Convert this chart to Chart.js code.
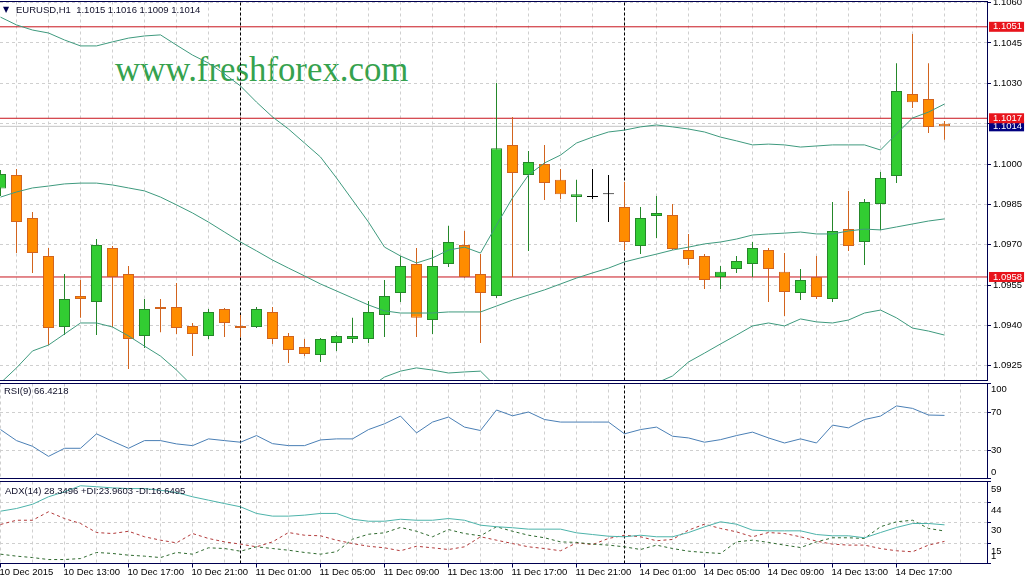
<!DOCTYPE html>
<html>
<head>
<meta charset="utf-8">
<script src="https://cdn.jsdelivr.net/npm/chart.js@4.4.1/dist/chart.umd.min.js"></script>
<style>
html,body{margin:0;padding:0;background:#fff;width:1029px;height:579px;overflow:hidden;}
#wrap{position:relative;width:1029px;height:579px;}
canvas{position:absolute;left:0;z-index:1;}
.lbl{position:absolute;z-index:2;font-family:"Liberation Sans",Arial,sans-serif;font-size:9.5px;line-height:12px;color:#10102a;white-space:pre;}
#wm{position:absolute;z-index:0;left:115px;top:53px;font-family:"Liberation Serif","Times New Roman",serif;font-size:34.8px;line-height:34px;color:#36a24e;white-space:pre;}
#tri{position:absolute;z-index:2;left:3px;top:4px;font-family:"DejaVu Sans",sans-serif;font-size:8px;line-height:12px;color:#000050;}
</style>
</head>
<body>
<div id="wrap">
  <div id="wm">www.freshforex.com</div>
  <canvas id="cMain" width="1029" height="381" style="top:0px"></canvas>
  <canvas id="cRsi" width="1029" height="97" style="top:382px"></canvas>
  <canvas id="cAdx" width="1029" height="99" style="top:480px"></canvas>
  <div id="tri">▼</div>
  <div class="lbl" style="left:16px;top:4px">EURUSD,H1  1.1015 1.1016 1.1009 1.1014</div>
  <div class="lbl" style="left:4px;top:385px">RSI(9) 66.4218</div>
  <div class="lbl" style="left:5px;top:485px">ADX(14) 28.3496 +DI:23.9603 -DI:16.6495</div>
</div>
<script>
// ---------------- DATA (EURUSD H1, 10 Dec 09:00 .. 14 Dec 20:00) ----------------
const open  = [1.09909,1.09959,1.09799,1.09658,1.09394,1.09509,1.09487,1.09688,1.09591,1.09361,
               1.09468,1.09468,1.09398,1.09361,1.09461,1.09398,1.09394,1.0945,1.09361,1.0932,
               1.0929,1.09335,1.09349,1.09349,1.09439,1.0952,1.09628,1.0942,1.09628,1.09699,
               1.09591,1.09509,1.10071,1.09959,1.1,1.09941,1.09877,1.09877,1.09888,1.0984,
               1.09695,1.09807,1.0981,1.0968,1.09658,1.0958,1.0961,1.09628,1.0968,1.09599,
               1.0952,1.0958,1.09498,1.09758,1.0971,1.09851,1.09955,1.1026,1.10242,1.1015];
const high  = [1.09978,1.09981,1.09822,1.09688,1.09591,1.09569,1.09721,1.09695,1.09621,1.09498,
               1.09498,1.09558,1.09409,1.09461,1.09465,1.09439,1.09468,1.09468,1.09372,1.09349,
               1.09353,1.09364,1.09428,1.09491,1.09569,1.09658,1.09688,1.0968,1.0977,1.09751,
               1.09665,1.10301,1.10175,1.10048,1.10071,1.09981,1.09941,1.09981,1.09959,1.09933,
               1.0984,1.09881,1.09851,1.0974,1.09665,1.09621,1.09658,1.0971,1.09688,1.09669,
               1.0961,1.09658,1.09859,1.099,1.0987,1.0997,1.10375,1.10483,1.10375,1.1016];
const low   = [1.09881,1.09669,1.09595,1.09327,1.09364,1.09428,1.09364,1.09394,1.09238,1.09316,
               1.09375,1.09368,1.09286,1.09349,1.09357,1.09357,1.0939,1.09331,1.0926,1.09286,
               1.09264,1.09305,1.09335,1.09335,1.09357,1.09487,1.09357,1.09368,1.09617,1.09576,
               1.09335,1.09502,1.0958,1.09677,1.09866,1.0987,1.09784,1.0987,1.09784,1.0968,
               1.09665,1.09725,1.0968,1.09625,1.09535,1.09535,1.09595,1.0958,1.09487,1.09435,
               1.09494,1.09498,1.09487,1.09677,1.09625,1.09755,1.09929,1.10208,1.10115,1.1009];
const close = [1.09963,1.09784,1.09669,1.0939,1.09498,1.09498,1.09699,1.0958,1.09349,1.09461,
               1.09461,1.0939,1.09368,1.0945,1.09409,1.0939,1.09461,1.09349,1.09309,1.09294,
               1.09349,1.09361,1.09361,1.0945,1.09509,1.09621,1.09428,1.09621,1.0971,1.0958,
               1.0952,1.10059,1.09967,1.10007,1.09929,1.09888,1.09888,1.09877,1.09888,1.0971,
               1.09799,1.09818,1.09684,1.09647,1.09569,1.09599,1.09639,1.09688,1.0961,1.09524,
               1.09569,1.09506,1.09751,1.09695,1.09859,1.09948,1.10271,1.1023,1.10138,1.1014];

const bbUpper  = [1.10546,1.10517,1.10498,1.10487,1.10461,1.10439,1.10439,1.10454,1.10468,1.10476,
                  1.1048,1.10442,1.10405,1.10375,1.10335,1.1029,1.1023,1.10175,1.1013,1.10078,
                  1.10026,1.09948,1.09866,1.09784,1.09691,1.09658,1.09632,1.09651,1.0968,1.09691,
                  1.09669,1.09773,1.09874,1.09959,1.10004,1.10033,1.10078,1.101,1.10119,1.10126,
                  1.10138,1.10145,1.10138,1.1013,1.10119,1.101,1.10086,1.10071,1.10074,1.10071,
                  1.10063,1.10067,1.10071,1.10071,1.10071,1.10052,1.10112,1.10171,1.10193,1.10223];
const bbMiddle = [1.09877,1.09896,1.09911,1.09918,1.09926,1.09929,1.09929,1.09922,1.09911,1.099,
                  1.09877,1.09848,1.09818,1.09784,1.09747,1.0971,1.09677,1.09643,1.09613,1.09584,
                  1.09554,1.09528,1.09502,1.09476,1.09454,1.09446,1.09446,1.09446,1.0945,1.0945,
                  1.0945,1.09472,1.09494,1.09513,1.09532,1.09554,1.09576,1.09595,1.09613,1.09636,
                  1.09651,1.09665,1.0968,1.09691,1.09703,1.0971,1.09721,1.09736,1.0974,1.09743,
                  1.09747,1.0974,1.0974,1.09751,1.09758,1.09755,1.09766,1.09777,1.09788,1.09796];
const bbLower  = [1.09186,1.09242,1.09305,1.09327,1.09368,1.09409,1.09409,1.09394,1.09361,1.09323,
                  1.09286,1.09234,1.09175,1.09152,1.0913,1.09108,1.09123,1.09112,1.09097,1.09089,
                  1.09082,1.09108,1.09138,1.09167,1.09208,1.0923,1.09242,1.09234,1.09223,1.09227,
                  1.0923,1.09171,1.09115,1.09067,1.09059,1.09074,1.09074,1.09089,1.09108,1.09145,
                  1.09164,1.09186,1.09212,1.09264,1.09297,1.09331,1.09364,1.09398,1.09409,1.09398,
                  1.09424,1.09413,1.09409,1.0942,1.09446,1.09457,1.09428,1.0939,1.09379,1.09364];

const rsi   = [51.5,39.9,33.9,23.3,31.8,31.8,47.0,39.2,31.8,39.9,
               39.9,36.4,34.6,41.7,39.9,38.2,45.2,36.7,34.6,34.6,
               40.6,41.7,41.7,51.5,57.6,65.7,48.0,59.4,64.7,54.1,
               50.5,72.1,66.0,70.0,62.1,59.4,59.4,59.4,59.4,47.0,
               51.5,54.1,44.5,42.7,38.2,40.9,45.2,48.8,42.7,37.4,
               41.7,37.4,56.2,53.3,62.1,65.7,76.4,73.8,66.8,66.42];
const adx   = [38.0,39.9,42.9,48.2,51.7,56.0,55.3,54.5,54.0,54.0,
               52.8,51.2,48.2,45.8,43.4,41.1,36.4,34.5,34.5,35.2,
               36.4,36.4,32.3,30.9,30.9,32.3,31.6,31.6,32.8,31.6,
               28.1,27.0,26.3,25.3,25.3,25.3,22.7,21.5,20.3,19.9,
               21.0,19.9,19.9,22.9,26.9,30.5,28.8,24.6,24.1,24.1,
               24.1,21.5,20.6,20.6,19.2,22.9,26.5,29.3,29.3,28.35];
const plusDI  = [7.6,6.2,5.2,3.8,3.8,4.5,8.8,8.1,6.9,6.2,
                 5.2,8.8,7.6,12.1,11.6,9.7,12.8,11.6,10.4,8.8,
                 7.6,9.3,18.2,21.7,22.7,26.5,23.8,19.9,25.0,22.2,
                 20.6,27.0,23.8,21.0,19.2,16.3,15.9,14.7,14.0,12.8,
                 10.9,14.0,11.6,9.7,8.8,8.1,16.3,17.5,15.9,14.0,
                 12.3,16.3,19.2,19.2,18.7,27.0,30.5,31.6,25.8,23.96];
const minusDI = [28.6,31.6,31.6,37.6,32.8,29.3,22.9,22.2,23.8,19.9,
                 17.5,15.6,22.2,18.7,16.3,14.7,12.8,16.3,22.9,21.0,
                 20.6,17.5,15.1,13.2,12.1,10.0,13.2,12.1,10.9,12.8,
                 19.9,17.5,15.1,12.8,11.6,10.0,15.6,14.4,18.7,21.0,
                 19.9,17.1,18.0,24.6,28.8,25.8,23.4,19.9,22.9,22.2,
                 19.9,16.8,14.7,14.0,14.0,11.6,10.0,9.3,14.0,16.65];

const xTickLabels = ['10 Dec 2015','10 Dec 13:00','10 Dec 17:00','10 Dec 21:00','11 Dec 01:00',
                     '11 Dec 05:00','11 Dec 09:00','11 Dec 13:00','11 Dec 17:00','11 Dec 21:00',
                     '14 Dec 01:00','14 Dec 05:00','14 Dec 09:00','14 Dec 13:00','14 Dec 17:00'];
const barsPerLabel = 4;
const daySeparators = [15, 39];           // bars opening at 11 Dec 00:00 and 14 Dec 00:00
const priceTicks = [1.0925,1.0940,1.0955,1.0970,1.0985,1.1000,1.1015,1.1030,1.1045,1.1060];
const levelPrices = [1.1051, 1.1017, 1.0958];
const bidPrice = 1.1014;
const rsiTicks = [0, 30, 70, 100];
const adxTicks = [1, 15, 30, 44, 59];

// ---------------- STYLE ----------------
const FONT = '"Liberation Sans", Arial, sans-serif';
const GRID = '#cfcfcf';
const NAVY = '#000050';
const BULL_FILL = '#32cd32', BULL_LINE = '#25872a';
const BEAR_FILL = '#ff8c00', BEAR_LINE = '#d2641e';
const BAND = '#3f9a7e';
const N = close.length;
const idx = Array.from({length: N}, (_, i) => i);
const X_MIN = -0.03125, X_MAX = 61.65625;
const TRANSPARENT = 'rgba(0,0,0,0)';

function dirColor(i, up, down, flat) {
  if (close[i] > open[i]) return up;
  if (close[i] < open[i]) return down;
  return flat;
}
const near = (a, b, eps) => Math.abs(a - b) < eps;
function noPad(s) { s.paddingTop = 0; s.paddingBottom = 0; s.paddingLeft = 0; s.paddingRight = 0; }

const panelBorder = {
  id: 'panelBorder',
  afterDraw(chart) {
    const {ctx, chartArea: a} = chart;
    ctx.save();
    ctx.strokeStyle = NAVY; ctx.lineWidth = 1;
    ctx.beginPath();
    ctx.moveTo(0, a.top); ctx.lineTo(a.right + 0.5, a.top);
    ctx.moveTo(0, a.bottom); ctx.lineTo(a.right + 0.5, a.bottom);
    ctx.stroke();
    ctx.restore();
  }
};

function xScale(showLabels) {
  return {
    type: 'linear', min: X_MIN, max: X_MAX, offset: false,
    afterBuildTicks: s => { const t = []; for (let v = 0; v <= 60; v += 2) t.push({value: v}); s.ticks = t; },
    afterFit: s => { s.height = showLabels ? 15.5 : 0; noPad(s); },
    grid: {
      color: GRID, lineWidth: 1, drawTicks: showLabels, tickLength: 4,
      tickColor: ctx => {
        const v = ctx.tick ? ctx.tick.value : -1;
        return (v % barsPerLabel === 0 && v / barsPerLabel < xTickLabels.length) ? NAVY : TRANSPARENT;
      }
    },
    border: { display: false, dash: [3, 3] },
    ticks: {
      display: showLabels, autoSkip: false, maxRotation: 0, minRotation: 0, align: 'start',
      padding: 0, labelOffset: -1, color: '#000',
      font: { family: FONT, size: 9.5, lineHeight: 1 },
      callback: v => {
        const k = v / barsPerLabel;
        return (Number.isInteger(k) && k < xTickLabels.length) ? xTickLabels[k] : '';
      }
    }
  };
}

function separatorDatasets(yMin, yMax) {
  return daySeparators.map(b => ({
    type: 'line', data: [{x: b, y: yMin}, {x: b, y: yMax}],
    borderColor: '#000', borderWidth: 1, borderDash: [3, 2], pointRadius: 0, order: 20
  }));
}

const commonOpts = {
  responsive: false, animation: false, devicePixelRatio: 1,
  plugins: { legend: { display: false }, tooltip: { enabled: false } },
  events: []
};

// ---------------- MAIN PRICE PANEL ----------------
const P_MIN = 1.0919517, P_MAX = 1.1060409;
const markerTicks = levelPrices.concat([bidPrice]);
const isMarker = v => markerTicks.some(m => near(m, v, 1e-7));
const allPriceTicks = priceTicks.concat(markerTicks).sort((a, b) => a - b);

const levelDatasets = levelPrices.map(p => ({
  type: 'line', data: [{x: X_MIN, y: p}, {x: X_MAX, y: p}],
  borderColor: '#c8141c', borderWidth: 1, pointRadius: 0, order: 12
}));

new Chart(document.getElementById('cMain'), {
  type: 'bar',
  data: {
    datasets: [
      ...separatorDatasets(P_MIN, P_MAX),
      { type: 'line', data: [{x: X_MIN, y: bidPrice}, {x: X_MAX, y: bidPrice}],
        borderColor: '#c4c4c4', borderWidth: 1, pointRadius: 0, order: 15 },
      ...levelDatasets,
      { type: 'bar', data: idx.map(i => ({x: i, y: [low[i], high[i]]})),
        barThickness: 1, grouped: false, inflateAmount: 0, borderWidth: 0,
        backgroundColor: c => dirColor(c.dataIndex, BULL_LINE, BEAR_LINE, '#000'), order: 9 },
      { type: 'bar', data: idx.map(i => ({x: i, y: [open[i], close[i]]})),
        barThickness: 11, grouped: false, inflateAmount: 0, minBarLength: 1,
        borderWidth: 1, borderSkipped: false,
        backgroundColor: c => dirColor(c.dataIndex, BULL_FILL, BEAR_FILL, '#000'),
        borderColor: c => dirColor(c.dataIndex, BULL_LINE, BEAR_LINE, '#000'), order: 8 },
      { type: 'line', data: idx.map(i => ({x: i, y: bbUpper[i]})), borderColor: BAND, borderWidth: 1, pointRadius: 0, order: 2 },
      { type: 'line', data: idx.map(i => ({x: i, y: bbMiddle[i]})), borderColor: BAND, borderWidth: 1, pointRadius: 0, order: 2 },
      { type: 'line', data: idx.map(i => ({x: i, y: bbLower[i]})), borderColor: BAND, borderWidth: 1, pointRadius: 0, order: 2 }
    ]
  },
  options: {
    ...commonOpts,
    layout: { autoPadding: false, padding: { top: 1.5, bottom: 0.5, left: 0, right: 0 } },
    scales: {
      x: xScale(false),
      y: {
        position: 'right', min: P_MIN, max: P_MAX,
        afterBuildTicks: s => { s.ticks = allPriceTicks.map(v => ({value: v})); },
        afterFit: s => { s.width = 42; noPad(s); },
        grid: {
          color: c => (c.tick && isMarker(c.tick.value)) ? TRANSPARENT : GRID,
          tickColor: c => (c.tick && isMarker(c.tick.value)) ? TRANSPARENT : NAVY,
          tickLength: 4
        },
        border: { display: true, color: NAVY, dash: [3, 3] },
        ticks: {
          autoSkip: false, padding: 2,
          font: { family: FONT, size: 9.5, lineHeight: 1.05 },
          color: c => (c.tick && isMarker(c.tick.value)) ? '#ffffff' : '#000',
          showLabelBackdrop: c => !!(c.tick && isMarker(c.tick.value)),
          backdropColor: c => (c.tick && near(c.tick.value, bidPrice, 1e-7)) ? '#000080' : '#e8141c',
          backdropPadding: { top: 0, bottom: 0, left: 4, right: 2 },
          callback: v => {
            if (!isMarker(v) && markerTicks.some(m => near(m, v, 0.00025))) return '';
            return v.toFixed(4);
          }
        }
      }
    }
  },
  plugins: [panelBorder]
});

// ---------------- RSI PANEL ----------------
new Chart(document.getElementById('cRsi'), {
  type: 'line',
  data: {
    datasets: [
      ...separatorDatasets(0, 100),
      { data: idx.map(i => ({x: i, y: rsi[i]})), borderColor: '#4a7fb5', borderWidth: 1, pointRadius: 0, order: 1 }
    ]
  },
  options: {
    ...commonOpts,
    layout: { autoPadding: false, padding: { top: 1.5, bottom: 0.5, left: 0, right: 0 } },
    scales: {
      x: xScale(false),
      y: {
        position: 'right', min: 0, max: 100,
        afterBuildTicks: s => { s.ticks = rsiTicks.map(v => ({value: v})); },
        afterFit: s => { s.width = 42; noPad(s); },
        grid: {
          color: c => (c.tick && (c.tick.value === 0 || c.tick.value === 100)) ? TRANSPARENT : GRID,
          tickColor: NAVY, tickLength: 4
        },
        border: { display: true, color: NAVY, dash: [3, 3] },
        ticks: {
          autoSkip: false, padding: 0, color: '#000',
          font: { family: FONT, size: 9.5, lineHeight: 1.25 },
          callback: v => v === 100 ? ['', '100'] : (v === 0 ? ['0', ''] : String(v))
        }
      }
    }
  },
  plugins: [panelBorder]
});

// ---------------- ADX PANEL ----------------
new Chart(document.getElementById('cAdx'), {
  type: 'line',
  data: {
    datasets: [
      ...separatorDatasets(1, 59),
      { data: idx.map(i => ({x: i, y: adx[i]})), borderColor: '#4db3aa', borderWidth: 1, pointRadius: 0, order: 1 },
      { data: idx.map(i => ({x: i, y: plusDI[i]})), borderColor: '#2f6a2f', borderWidth: 1, borderDash: [3, 3], pointRadius: 0, order: 2 },
      { data: idx.map(i => ({x: i, y: minusDI[i]})), borderColor: '#b23a3a', borderWidth: 1, borderDash: [3, 3], pointRadius: 0, order: 3 }
    ]
  },
  options: {
    ...commonOpts,
    layout: { autoPadding: false, padding: { top: 1.5, bottom: 0, left: 0, right: 0 } },
    scales: {
      x: xScale(true),
      y: {
        position: 'right', min: 1, max: 59,
        afterBuildTicks: s => { s.ticks = adxTicks.map(v => ({value: v})); },
        afterFit: s => { s.width = 42; noPad(s); },
        grid: {
          color: c => (c.tick && (c.tick.value === 1 || c.tick.value === 59)) ? TRANSPARENT : GRID,
          tickColor: NAVY, tickLength: 4
        },
        border: { display: true, color: NAVY, dash: [3, 3] },
        ticks: {
          autoSkip: false, padding: 0, color: '#000',
          font: { family: FONT, size: 9.5, lineHeight: 1.58 },
          callback: v => v === 1 ? ['1', ''] : ['', String(v)]
        }
      }
    }
  },
  plugins: [panelBorder]
});
</script>
</body>
</html>
